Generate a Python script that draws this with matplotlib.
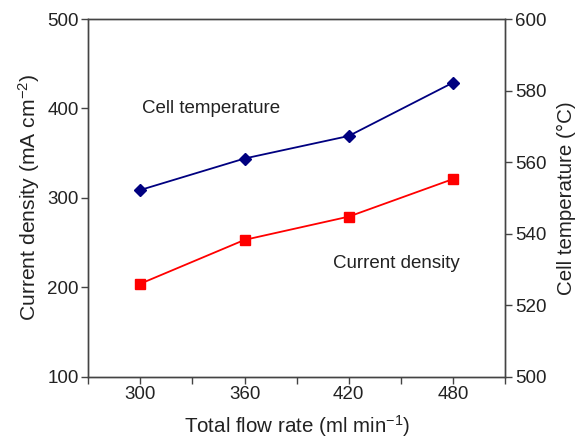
import matplotlib
matplotlib.use('Agg')
import matplotlib.pyplot as plt
import numpy as np

plt.rcParams['font.family'] = ['Liberation Sans', 'DejaVu Sans']
plt.rcParams['mathtext.fontset'] = 'custom'
plt.rcParams['mathtext.rm'] = 'Liberation Sans'
plt.rcParams['mathtext.default'] = 'regular'

# data
flow_rate = [300, 360, 420, 480]
current_density = [204, 253, 279, 321]
cell_temp = [552.2, 561, 567.3, 582.2]

spine_col = '#444444'
text_col = '#222222'

fig = plt.figure(figsize=(5.79, 4.43), dpi=100)
ax = fig.add_axes([88.3 / 579, 1 - 376.7 / 443, (505 - 88.3) / 579, (376.7 - 19) / 443])
ax2 = ax.twinx()

ax.plot(flow_rate, current_density, color='#ff0000', marker='s', markersize=7,
        linewidth=1.3)
ax2.plot(flow_rate, cell_temp, color='#000080', marker='D', markersize=6,
         linewidth=1.3)

ax.set_xlim(270, 510)
ax.set_ylim(100, 500)
ax2.set_ylim(500, 600)

ax.set_xticks(np.arange(270, 511, 30))
ax.set_xticklabels(['' if v % 60 else str(v) for v in range(270, 511, 30)])
ax.set_yticks([100, 200, 300, 400, 500])
ax2.set_yticks([500, 520, 540, 560, 580, 600])

for a in (ax, ax2):
    for s in a.spines.values():
        s.set_color(spine_col)
        s.set_linewidth(1.0)
    a.tick_params(direction='out', length=5, width=1, color=spine_col,
                  labelsize=13.5, labelcolor=text_col, pad=2)

ax.set_xlabel('Total flow rate (ml min$^{-1}$)', fontsize=14.8, color=text_col, labelpad=7)
ax.set_ylabel('Current density (mA cm$^{-2}$)', fontsize=15.2, color=text_col, labelpad=4)
ax2.set_ylabel('Cell temperature (\u00b0C)', fontsize=14.8, color=text_col, labelpad=8)

ax.text(301, 400, 'Cell temperature', fontsize=13.5, color=text_col, va='center')
ax.text(411, 227, 'Current density', fontsize=13.5, color=text_col, va='center')

fig.savefig('out.png', dpi=100)
